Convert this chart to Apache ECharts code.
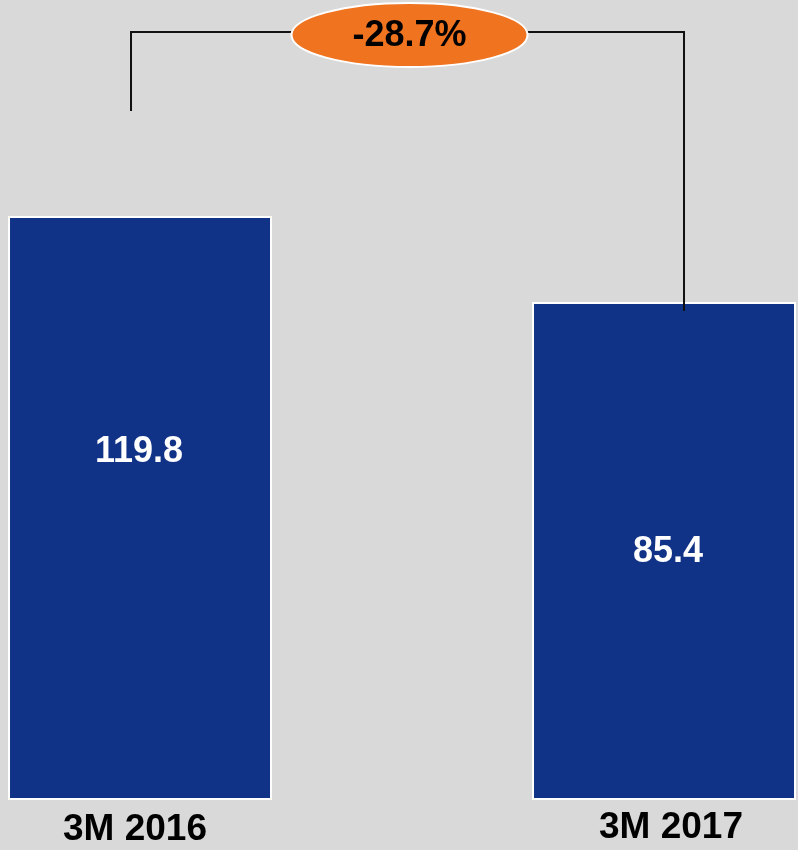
<!DOCTYPE html>
<html>
<head>
<meta charset="utf-8">
<script src="https://cdn.jsdelivr.net/npm/echarts@6/dist/echarts.min.js"></script>
<style>
  html, body { margin: 0; padding: 0; background: #d9d9d9; }
  #chart { width: 798px; height: 850px; }
</style>
</head>
<body>
<div id="chart"></div>
<script>
// Periods and their values
const categories = ['3M 2016', '3M 2017'];
const values = [119.8, 85.4];

// Change between the two periods, shown in the badge
const changePct = (values[1] / values[0] - 1) * 100;

// Axis ranges (both axes are hidden)
const X_MIN = -0.2672;
const X_MAX = 1.2557;
const Y_MIN = -113;
const Y_MAX = 206.6;

const BAR_BLUE = '#113387';
const BADGE_ORANGE = '#F07320';
const FONT = '"Liberation Sans", Arial, sans-serif';

// Label nudges: value label from the bar's middle, period label from the bar's centre/base
const VALUE_DX = [-1, 4];
const VALUE_DY = [-56, 1];
const PERIOD_DX = [-5, 7];
const PERIOD_DY = [31, 29];

const chart = echarts.init(document.getElementById('chart'), null, { renderer: 'canvas' });

function renderBar(params, api) {
  const i = api.value(0);
  const v = api.value(1);
  const k = params.dataIndex;
  const top = api.coord([i, v]);
  const base = api.coord([i, Y_MIN]);
  const w = api.size([0.5, 0])[0];
  const h = base[1] - top[1];
  return {
    type: 'group',
    children: [
      {
        type: 'rect',
        shape: { x: top[0] - w / 2, y: top[1], width: w, height: h },
        style: { fill: BAR_BLUE, stroke: '#ffffff', lineWidth: 2 }
      },
      {
        type: 'text',
        x: top[0] + VALUE_DX[k],
        y: top[1] + h / 2 + VALUE_DY[k],
        style: {
          text: values[k].toFixed(1),
          fill: '#ffffff',
          font: 'bold 36px ' + FONT,
          align: 'center',
          verticalAlign: 'middle'
        }
      },
      {
        type: 'text',
        x: base[0] + PERIOD_DX[k],
        y: base[1] + PERIOD_DY[k],
        style: {
          text: categories[k],
          fill: '#000000',
          font: 'bold 37px ' + FONT,
          align: 'center',
          verticalAlign: 'middle'
        }
      }
    ]
  };
}

// Bracket joining the two bars with the percentage badge on top
function renderBracket(params, api) {
  const p0 = api.coord([0, values[0]]);
  const p1 = api.coord([1, values[1]]);
  const yLine = 32;
  const xL = p0[0] - 9;
  const xR = p1[0] + 20;
  const yL = p0[1] - 106;
  const yR = p1[1] + 8;
  const cx = (xL + xR) / 2 + 2;
  const cy = 35;
  return {
    type: 'group',
    children: [
      {
        type: 'polyline',
        shape: { points: [[xL, yL], [xL, yLine], [xR, yLine], [xR, yR]] },
        style: { stroke: '#111111', lineWidth: 2, fill: null }
      },
      {
        type: 'ellipse',
        shape: { cx: cx, cy: cy, rx: 118, ry: 32 },
        style: { fill: BADGE_ORANGE, stroke: '#ffffff', lineWidth: 2 }
      },
      {
        type: 'text',
        x: cx,
        y: cy + 1,
        style: {
          text: changePct.toFixed(1) + '%',
          fill: '#000000',
          font: 'bold 36px ' + FONT,
          align: 'center',
          verticalAlign: 'middle'
        }
      }
    ]
  };
}

chart.setOption({
  backgroundColor: '#d9d9d9',
  animation: false,
  grid: { left: 0, right: 0, top: 0, bottom: 51 },
  xAxis: {
    type: 'value',
    min: X_MIN,
    max: X_MAX,
    show: false,
    splitLine: { show: false }
  },
  yAxis: {
    type: 'value',
    min: Y_MIN,
    max: Y_MAX,
    show: false,
    splitLine: { show: false }
  },
  series: [
    {
      name: 'bars',
      type: 'custom',
      renderItem: renderBar,
      encode: { x: 0, y: 1 },
      data: values.map((v, i) => [i, v]),
      clip: false,
      z: 2
    },
    {
      name: 'bracket',
      type: 'custom',
      renderItem: renderBracket,
      data: [[0, values[0]]],
      clip: false,
      z: 3
    }
  ]
});
</script>
</body>
</html>
